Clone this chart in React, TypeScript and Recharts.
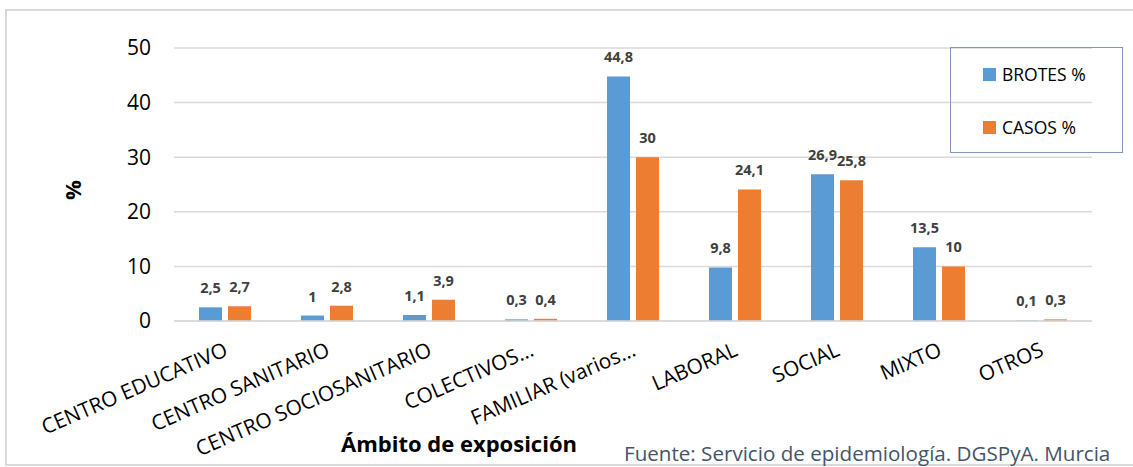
import React from "react";
import {
  BarChart,
  Bar,
  XAxis,
  YAxis,
  CartesianGrid,
  Legend,
  LabelList,
} from "recharts";

const categories = [
  "CENTRO EDUCATIVO",
  "CENTRO SANITARIO",
  "CENTRO SOCIOSANITARIO",
  "COLECTIVOS…",
  "FAMILIAR (varios…",
  "LABORAL",
  "SOCIAL",
  "MIXTO",
  "OTROS",
];
const brotes = [2.5, 1, 1.1, 0.3, 44.8, 9.8, 26.9, 13.5, 0.1];
const casos = [2.7, 2.8, 3.9, 0.4, 30, 24.1, 25.8, 10, 0.3];
const yTicks = [0, 10, 20, 30, 40, 50];

const data = categories.map((name, i) => ({
  name,
  brotes: brotes[i],
  casos: casos[i],
}));

const FONT = "'Open Sans', sans-serif";
const BLUE = "#5B9BD5";
const ORANGE = "#ED7D31";

const fmt = (v: any) => String(v).replace(".", ",");

function XTick({ x, payload }: any) {
  return (
    <text
      transform={`translate(${x + 4}, 355) rotate(-23.5)`}
      textAnchor="end"
      fontSize={20.8}
      fontFamily={FONT}
      fill="#000"
    >
      {payload.value}
    </text>
  );
}

function LegendBox() {
  const items = [
    { label: "BROTES %", color: BLUE },
    { label: "CASOS %", color: ORANGE },
  ];
  return (
    <div
      style={{
        width: 173,
        height: 106,
        border: "1.5px solid #7F98C0",
        boxSizing: "border-box",
        fontFamily: FONT,
        position: "relative",
      }}
    >
      {items.map((it, i) => (
        <div
          key={it.label}
          style={{
            position: "absolute",
            left: 32,
            top: 14 + i * 53,
            display: "flex",
            alignItems: "center",
            fontSize: 17.5,
            color: "#000",
          }}
        >
          <span
            style={{
              width: 13,
              height: 13,
              background: it.color,
              marginRight: 6,
              display: "inline-block",
            }}
          />
          {it.label}
        </div>
      ))}
    </div>
  );
}

export default function App() {
  return (
    <div style={{ position: "relative", width: 1133, height: 467, overflow: "hidden", background: "#fff" }}>
      <style>{`body{margin:0}`}</style>
      <div
        style={{
          position: "absolute",
          left: 5,
          top: 9,
          width: 1140,
          height: 457,
          border: "2px solid #D9D9D9",
          boxSizing: "border-box",
        }}
      />
      <BarChart
        width={1133}
        height={467}
        data={data}
        margin={{ top: 48, right: 41, bottom: 116, left: 104 }}
        barSize={23}
        barGap={6}
        style={{ position: "absolute", left: 0, top: 0 }}
      >
        <CartesianGrid vertical={false} stroke="#D9D9D9" strokeWidth={1.5} />
        <XAxis
          dataKey="name"
          interval={0}
          height={30}
          tickLine={false}
          axisLine={{ stroke: "#D9D9D9", strokeWidth: 1.5 }}
          tick={<XTick />}
        />
        <YAxis
          width={70}
          domain={[0, 50]}
          ticks={yTicks}
          axisLine={false}
          tickLine={false}
          tickMargin={17}
          tick={{ fontSize: 21, fill: "#000", fontFamily: FONT }}
        />
        <Legend
          layout="vertical"
          align="center"
          verticalAlign="middle"
          wrapperStyle={{ left: 950, top: 47, width: 173, height: 106 }}
          content={() => <LegendBox />}
        />
        <Bar dataKey="brotes" name="BROTES %" fill={BLUE} isAnimationActive={false}>
          <LabelList
            dataKey="brotes"
            position="top"
            offset={14}
            formatter={fmt}
            style={{ fontSize: 14.5, fontWeight: 700, fill: "#404040", fontFamily: FONT }}
          />
        </Bar>
        <Bar dataKey="casos" name="CASOS %" fill={ORANGE} isAnimationActive={false}>
          <LabelList
            dataKey="casos"
            position="top"
            offset={14}
            formatter={fmt}
            style={{ fontSize: 14.5, fontWeight: 700, fill: "#404040", fontFamily: FONT }}
          />
        </Bar>
      </BarChart>
      <div
        style={{
          position: "absolute",
          left: 72,
          top: 190,
          transform: "translate(-50%, -50%) rotate(-90deg)",
          fontFamily: FONT,
          fontWeight: 700,
          fontSize: 22,
        }}
      >
        %
      </div>
      <div
        style={{
          position: "absolute",
          left: 459,
          top: 443,
          transform: "translate(-50%, -50%)",
          fontFamily: FONT,
          fontWeight: 700,
          fontSize: 22,
          whiteSpace: "nowrap",
        }}
      >
        Ámbito de exposición
      </div>
      <div
        style={{
          position: "absolute",
          left: 624,
          top: 443,
          lineHeight: 1,
          fontFamily: FONT,
          fontSize: 20.6,
          color: "#44546A",
          whiteSpace: "nowrap",
        }}
      >
        Fuente: Servicio de epidemiología. DGSPyA. Murcia
      </div>
    </div>
  );
}
